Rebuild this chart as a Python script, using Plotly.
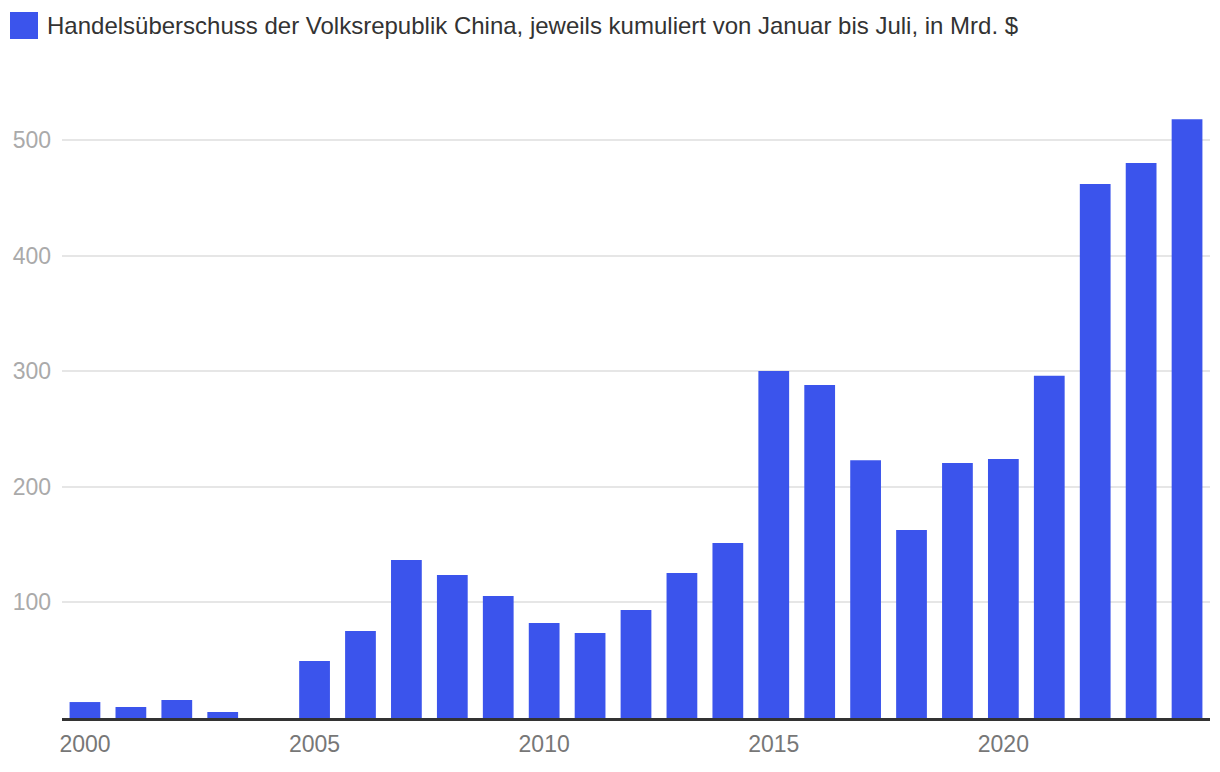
import plotly.graph_objects as go

years = list(range(2000, 2025))
surplus = [13.8, 9.5, 15.6, 5.2, 0.0, 49.3, 75.3, 136.7, 123.7, 105.5, 82.2, 73.5,
           93.4, 125.4, 151.4, 300.2, 288.0, 223.0, 162.6, 220.6, 224.0, 296.0,
           462.0, 480.0, 518.0]
legend_text = "Handelsüberschuss der Volksrepublik China, jeweils kumuliert von Januar bis Juli, in Mrd. $"
y_ticks = [100, 200, 300, 400, 500]
x_ticks = [2000, 2005, 2010, 2015, 2020]

BAR = "#3b54ec"
FONT = "Liberation Sans, Arial, Helvetica, sans-serif"

fig = go.Figure()
fig.add_trace(go.Bar(x=years, y=surplus, marker=dict(color=BAR, line=dict(width=0)),
                     width=0.67, showlegend=False, hoverinfo="x+y"))

fig.update_layout(
    width=1220, height=772,
    margin=dict(l=62, r=10, t=100, b=54),
    paper_bgcolor="white", plot_bgcolor="white",
    font=dict(family=FONT),
    bargap=0.33,
    xaxis=dict(range=[1999.5, 2024.5], tickvals=x_ticks, ticktext=[str(v) for v in x_ticks],
               tickfont=dict(size=23, color="#777777"), showgrid=False, zeroline=False,
               showline=True, linecolor="#333333", linewidth=2.5, ticks="",
               ticklabelstandoff=4),
    yaxis=dict(range=[0, 534.6], tickvals=y_ticks, ticktext=[str(v) for v in y_ticks],
               tickfont=dict(size=23, color="#aaaaaa"), showgrid=True, gridcolor="#e6e6e6",
               gridwidth=1.5, zeroline=False, showline=False, ticks="",
               ticklabelstandoff=10),
    shapes=[dict(type="rect", xref="paper", yref="paper",
                 x0=-52/1148, x1=-24/1148, y0=1 + (100-39)/618, y1=1 + (100-12)/618,
                 fillcolor=BAR, line=dict(width=0))],
    annotations=[dict(text=legend_text, xref="paper", yref="paper",
                      x=-17/1148, y=1 + (100-26)/618, xanchor="left", yanchor="middle",
                      showarrow=False, font=dict(size=24, color="#333333", family=FONT))],
)

fig.write_html("out.html")
